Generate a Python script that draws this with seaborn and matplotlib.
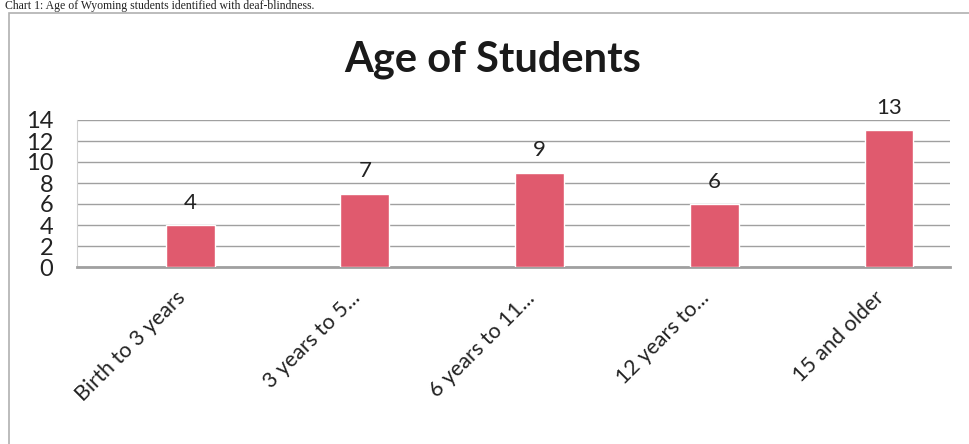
import matplotlib
matplotlib.use("Agg")
import matplotlib.pyplot as plt
import matplotlib.transforms as mtransforms
from matplotlib.patches import Rectangle
import seaborn as sns
import pandas as pd

categories = ["Birth to 3 years", "3 years to 5...", "6 years to 11...", "12 years to...", "15 and older"]
values = [4, 7, 9, 6, 13]
y_ticks = [0, 2, 4, 6, 8, 10, 12, 14]

title = "Age of Students"
caption = "Chart 1: Age of Wyoming students identified with deaf-blindness."

sns.set_theme(style="white")
plt.rcParams["font.family"] = ["Lato", "DejaVu Sans"]

W, H = 969, 444
fig = plt.figure(figsize=(W / 100, H / 100), dpi=100)

def px(x0, y0, x1, y1):
    return [x0 / W, 1 - y1 / H, (x1 - x0) / W, (y1 - y0) / H]

ax = fig.add_axes(px(77, 120, 950, 267))

df = pd.DataFrame({"cat": categories, "val": values})
sns.barplot(data=df, x="cat", y="val", color="#E05A6E", saturation=1,
            width=0.28, ax=ax, zorder=3)

ax.set_xlim(-0.647, 4.349)
ax.set_ylim(0, 14)
ax.set_yticks(y_ticks)
ax.set_xlabel("")
ax.set_ylabel("")
ax.yaxis.grid(True, color="#A0A0A0", linewidth=1.0, zorder=0)
ax.set_axisbelow(True)
for s in ["top", "right"]:
    ax.spines[s].set_visible(False)
ax.spines["left"].set_color("#D0D0D0")
ax.spines["left"].set_linewidth(0.8)
ax.spines["bottom"].set_color("#A0A0A0")
ax.spines["bottom"].set_linewidth(2.0)
ax.tick_params(axis="both", length=0)
ax.tick_params(axis="y", labelsize=17, pad=17, labelcolor="#222222")
ax.tick_params(axis="x", labelsize=15.5, pad=15, labelcolor="#222222")

plt.setp(ax.get_xticklabels(), rotation=45, ha="right", rotation_mode="anchor")
offset = mtransforms.ScaledTranslation(-15 / 100, 0, fig.dpi_scale_trans)
for lab in ax.get_xticklabels():
    lab.set_transform(lab.get_transform() + offset)

for c in ax.containers:
    ax.bar_label(c, padding=9, fontsize=16, color="#222222")

fig.text(493 / W, 1 - 60 / H, title, ha="center", va="center",
         fontsize=30, fontweight="bold", color="#1a1a1a")

fig.text(5 / W, 1 - 0.5 / H, caption, ha="left", va="top",
         fontsize=8.5, family=["Liberation Serif", "DejaVu Serif"], color="#222222")

fig.patches.append(Rectangle((9 / W, -0.1), 1.2, 1 - 13 / H + 0.1,
                             transform=fig.transFigure, fill=False,
                             edgecolor="#B0B0B0", linewidth=1.2))

fig.savefig("out.png", dpi=100)
